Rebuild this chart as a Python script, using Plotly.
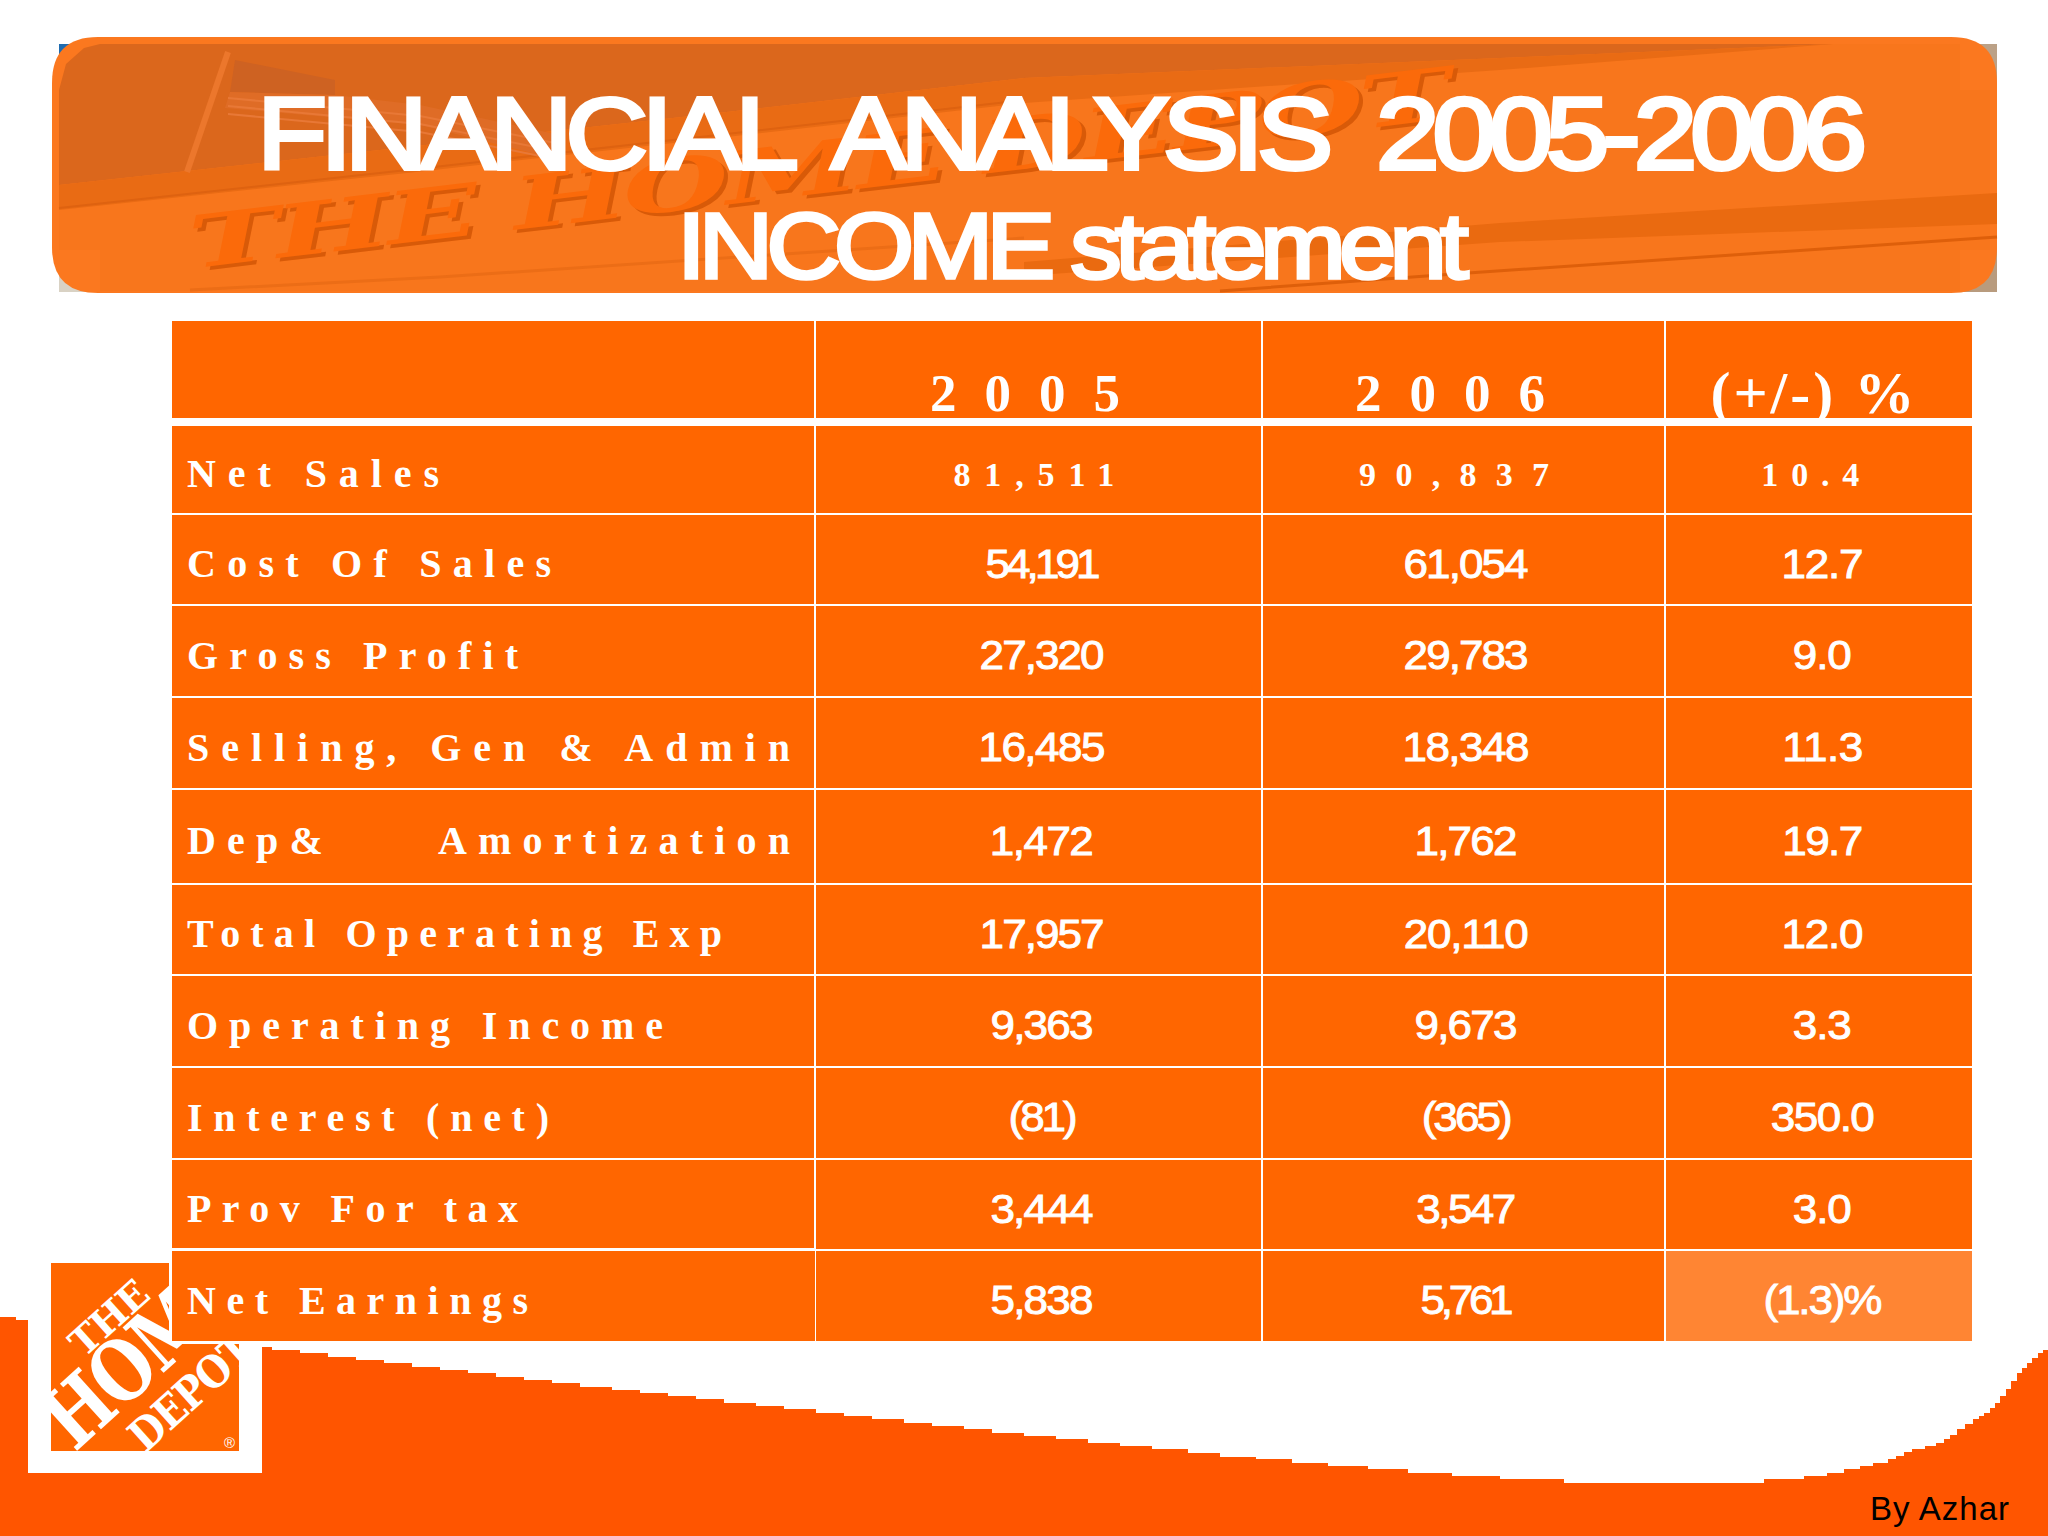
import json
import plotly.graph_objects as go

# table content
row_labels = ["Net Sales", "Cost Of Sales", "Gross Profit", "Selling, Gen & Admin", "Dep&     Amortization",
              "Total Operating Exp", "Operating Income", "Interest (net)", "Prov For tax", "Net Earnings"]
col_headers = ["2005", "2006", "(+/-) %"]
values_2005 = ["81,511", "54,191", "27,320", "16,485", "1,472", "17,957", "9,363", "(81)", "3,444", "5,838"]
values_2006 = ["90,837", "61,054", "29,783", "18,348", "1,762", "20,110", "9,673", "(365)", "3,547", "5,761"]
values_change = ["10.4", "12.7", "9.0", "11.3", "19.7", "12.0", "3.3", "350.0", "3.0", "(1.3)%"]

# slide geometry, in pixels of the 2048x1536 page
col_edges = [172, 815, 1262, 1665, 1972]
row_tops = [426, 515, 606, 698, 790, 885, 976, 1068, 1160, 1251]
row_bottoms = [513, 604, 696, 788, 883, 974, 1066, 1158, 1249, 1341]
col_centers = [1041, 1465, 1822]
label_widths = [252, 364, 331, 603, 603, 535, 476, 362, 331, 341]
width_2005 = [161, 115, 125, 127, 104, 125, 103, 69, 103, 103]
width_2006 = [190, 125, 125, 127, 103, 125, 103, 91, 100, 93]
width_change = [98, 82, 59, 81, 81, 82, 59, 104, 59, 119]

# stepped top edge of the bottom band
band_x = [0, 16, 262, 272, 300, 328, 356, 384, 412, 440, 468, 496, 524, 552, 580, 612, 640, 668, 696, 724, 756, 784,
          816, 844, 872, 904, 932, 964, 992, 1024, 1056, 1088, 1120, 1152, 1188, 1220, 1256, 1292, 1328, 1368, 1408,
          1452, 1500, 1564, 1764, 1804, 1827, 1844, 1860, 1873, 1888, 1896, 1904, 1912, 1925, 1936, 1944, 1950, 1957,
          1965, 1973, 1979, 1984, 1990, 1995, 2000, 2006, 2011, 2017, 2022, 2027, 2032, 2038, 2043, 2048, 2048, 0]
band_y = [1317, 1320, 1347, 1350, 1353, 1357, 1360, 1363, 1367, 1370, 1373, 1377, 1380, 1383, 1387, 1390, 1393, 1396,
          1399, 1403, 1406, 1409, 1413, 1416, 1419, 1423, 1426, 1429, 1433, 1436, 1439, 1443, 1446, 1449, 1453, 1457,
          1459, 1463, 1466, 1469, 1473, 1476, 1479, 1483, 1479, 1476, 1473, 1469, 1466, 1463, 1459, 1456, 1452, 1449,
          1446, 1443, 1439, 1435, 1429, 1424, 1419, 1416, 1413, 1408, 1403, 1396, 1389, 1381, 1373, 1368, 1363, 1358,
          1353, 1350, 1347, 1536, 1536]

CELL = "#FF6600"
BAND = "#FF5500"
TITLE_1 = "FINANCIAL  ANALYSIS  2005-2006"
TITLE_2 = "INCOME statement"


def poly(points, fill, line=None, width=0):
    path = "M " + " L ".join(f"{x},{y}" for x, y in points) + " Z"
    return dict(type="path", path=path, fillcolor=fill, layer="above",
                line=dict(color=line or fill, width=width), xref="x", yref="y")


def stroke_line(points, color, width):
    path = "M " + " L ".join(f"{x},{y}" for x, y in points)
    return dict(type="path", path=path, layer="above", line=dict(color=color, width=width), xref="x", yref="y")


def rect(x0, y0, x1, y1, fill):
    return dict(type="rect", x0=x0, y0=y0, x1=x1, y1=y1, fillcolor=fill, layer="above",
                line=dict(width=0), xref="x", yref="y")


def rounded(x0, y0, x1, y1, r, fill):
    path = (f"M {x0 + r},{y0} L {x1 - r},{y0} Q {x1},{y0} {x1},{y0 + r} L {x1},{y1 - r} Q {x1},{y1} {x1 - r},{y1} "
            f"L {x0 + r},{y1} Q {x0},{y1} {x0},{y1 - r} L {x0},{y0 + r} Q {x0},{y0} {x0 + r},{y0} Z")
    return dict(type="path", path=path, fillcolor=fill, layer="above", line=dict(width=0), xref="x", yref="y")


def text(x, y, s, size, family="Liberation Sans", color="white", xanchor="center", **kw):
    font = dict(family=family, size=size, color=color)
    font.update(kw.pop("font_extra", {}))
    return dict(x=x, y=y, text=s, showarrow=False, xref="x", yref="y", xanchor=xanchor, yanchor="middle",
                font=font, **kw)


shapes = []
# picture corners peeking out behind the rounded banner
shapes += [rect(59, 44, 110, 90, "#1F6CB0"), rect(59, 250, 110, 292, "#D9D2C4"),
           rect(1950, 44, 1997, 100, "#BBA187"), rect(1950, 240, 1997, 292, "#B89B7E")]
shapes.append(rounded(52, 37, 1997, 293, 46, "#FB781F"))
shapes.append(rect(100, 44, 1960, 291, "#F8761C"))
shapes.append(rect(59, 90, 1990, 250, "#F8761C"))
# darker sky and stripes of the banner picture
shapes.append(poly([(59, 185), (59, 90), (66, 64), (84, 48), (100, 44), (1833, 44), (1500, 58), (1024, 78), (700, 115),
                    (407, 147)], "#DB671C"))
shapes.append(poly([(59, 185), (407, 147), (700, 115), (1024, 78), (1500, 58), (1833, 44), (1500, 70), (1024, 103),
                    (700, 140), (407, 173), (59, 210)], "#E96B14"))
shapes.append(stroke_line([(59, 208), (407, 170), (700, 137), (1024, 100)], "#DE6210", 2))
shapes.append(poly([(1024, 262), (1500, 223), (1997, 193), (1997, 224), (1500, 242), (1024, 276)], "#EA6A10"))
shapes.append(stroke_line([(1220, 291), (1468, 273), (1997, 237)], "#DE5F0A", 3))
shapes.append(stroke_line([(190, 290), (440, 277), (1024, 238)], "#EC6D16", 3))
# flag and pole
shapes.append(stroke_line([(228, 52), (187, 172)], "#EC772C", 6))
shapes.append(poly([(235, 60), (335, 80), (335, 95), (230, 92)], "#CE6222"))
shapes.append(poly([(230, 92), (335, 95), (420, 105), (560, 135), (560, 160), (420, 125), (225, 108)], "#DF6C26"))
for yy in (98, 106, 114):
    shapes.append(stroke_line([(228, yy), (420, yy + 18), (560, yy + 46)], "#E87836", 2))

# bottom logo box
shapes.append(rect(28, 1300, 262, 1473, "white"))
shapes.append(rect(51, 1263, 239, 1451, CELL))

# table cells
for i in range(4):
    shapes.append(rect(col_edges[i] + (1 if i else 0), 321, col_edges[i + 1] - (1 if i < 3 else 0), 418, CELL))
for r in range(10):
    for i in range(4):
        fill = "#FF8533" if (r == 9 and i == 3) else CELL
        shapes.append(rect(col_edges[i] + (1 if i else 0), row_tops[r], col_edges[i + 1] - (1 if i < 3 else 0),
                           row_bottoms[r], fill))

annotations = []
# lettering in the banner picture
annotations.append(text(822, 167, "THE HOME DEPOT", 72, family="DejaVu Serif", color="#FB6A0A", textangle=-6.8,
                        font_extra=dict(style="italic", weight="bold", shadow="3px 5px 0 #D85A08")))
# titles
annotations.append(text(1059, 134, TITLE_1, 102))
annotations.append(text(1070, 246, TITLE_2, 92))

# logo text, the table row covers whatever runs under it
annotations.append(text(108, 1318, "THE", 38, family="DejaVu Serif", textangle=-42, font_extra=dict(weight="bold")))
annotations.append(text(143, 1351, "HOME", 84, family="DejaVu Serif", textangle=-42, font_extra=dict(weight="bold")))
annotations.append(text(190, 1392, "DEPOT", 44, family="DejaVu Serif", textangle=-42, font_extra=dict(weight="bold")))
annotations.append(text(229, 1442, "®", 15))
annotations.append(dict(x=169, y=1248, text=" ", showarrow=False, xref="x", yref="y", xanchor="left", yanchor="top",
                        width=646, height=96, bgcolor="white", borderpad=0, borderwidth=0))
annotations.append(dict(x=172, y=1251, text=" ", showarrow=False, xref="x", yref="y", xanchor="left", yanchor="top",
                        width=643, height=90, bgcolor=CELL, borderpad=0, borderwidth=0))

# header row
header_x = [1039, 1464, 1814]
header_w = [190, 190, 204]
for hx, h, size in zip(header_x, col_headers, [53, 53, 60]):
    annotations.append(text(hx, 393, h, size, family="Liberation Serif", font_extra=dict(weight="bold")))

# body rows
serif_x = [1041, 1464, 1817]
for r, label in enumerate(row_labels):
    yy = (row_tops[r] + row_bottoms[r]) / 2 + 4
    annotations.append(text(185, yy, label, 40, family="Liberation Serif", xanchor="left", align="left",
                            font_extra=dict(weight="bold")))
    for c, vals in enumerate([values_2005, values_2006, values_change]):
        if r == 0:
            annotations.append(text(serif_x[c], yy + 1, vals[r], 34, family="Liberation Serif",
                                    font_extra=dict(weight="bold")))
        else:
            annotations.append(text(col_centers[c], yy, vals[r], 40))

annotations.append(text(1940, 1508, "By Azhar", 33, color="black"))

fig = go.Figure()
fig.add_trace(go.Scatter(x=band_x, y=band_y, mode="lines", fill="toself", fillcolor=BAND,
                         line=dict(color=BAND, width=0, shape="hv"), hoverinfo="skip", showlegend=False))
fig.update_layout(
    width=2048, height=1536,
    margin=dict(l=0, r=0, t=0, b=0),
    paper_bgcolor="white", plot_bgcolor="white",
    xaxis=dict(range=[0, 2048], visible=False, fixedrange=True),
    yaxis=dict(range=[1536, 0], visible=False, fixedrange=True),
    shapes=shapes, annotations=annotations, showlegend=False,
)

# target text widths, horizontal stretch and outline, plotly has none of these on text
fit = {TITLE_1: 1610, TITLE_2: 792, "THE HOME DEPOT": 1270,
       "THE": 92, "HOME": 240, "DEPOT": 150, "By Azhar": 139}
fit.update(dict(zip(col_headers, header_w)))
fit.update(dict(zip(row_labels, label_widths)))
fit.update(dict(zip(values_2005, width_2005)))
fit.update(dict(zip(values_2006, width_2006)))
fit.update(dict(zip(values_change, width_change)))
stretch = {TITLE_1: 1.12, TITLE_2: 1.12, "THE HOME DEPOT": 1.7, "HOME": 0.8, "DEPOT": 0.88}
outline = {TITLE_1: 4, TITLE_2: 3.5}
for v in values_2005[1:] + values_2006[1:] + values_change[1:]:
    outline[v] = 0.9
    stretch[v] = 1.1

post = """
document.body.style.margin = '0';
document.body.style.overflow = 'hidden';
var fit = %s, stretch = %s, outline = %s;
document.querySelectorAll('.annotation-text').forEach(function (t) {
    var s = t.textContent, k = stretch[s] || 1;
    if (fit[s] && s.length > 1) {
        t.style.letterSpacing = ((fit[s] / k - t.getComputedTextLength()) / (s.length - 1)) + 'px';
    }
    if (k !== 1) {
        t.style.transformBox = 'fill-box';
        t.style.transformOrigin = 'center';
        t.style.transform = 'scaleX(' + k + ')';
    }
    if (outline[s]) {
        t.style.stroke = 'white';
        t.style.strokeWidth = outline[s] + 'px';
    }
});
""" % (json.dumps(fit), json.dumps(stretch), json.dumps(outline))

fig.write_html("out.html", post_script=post, config=dict(displayModeBar=False))
